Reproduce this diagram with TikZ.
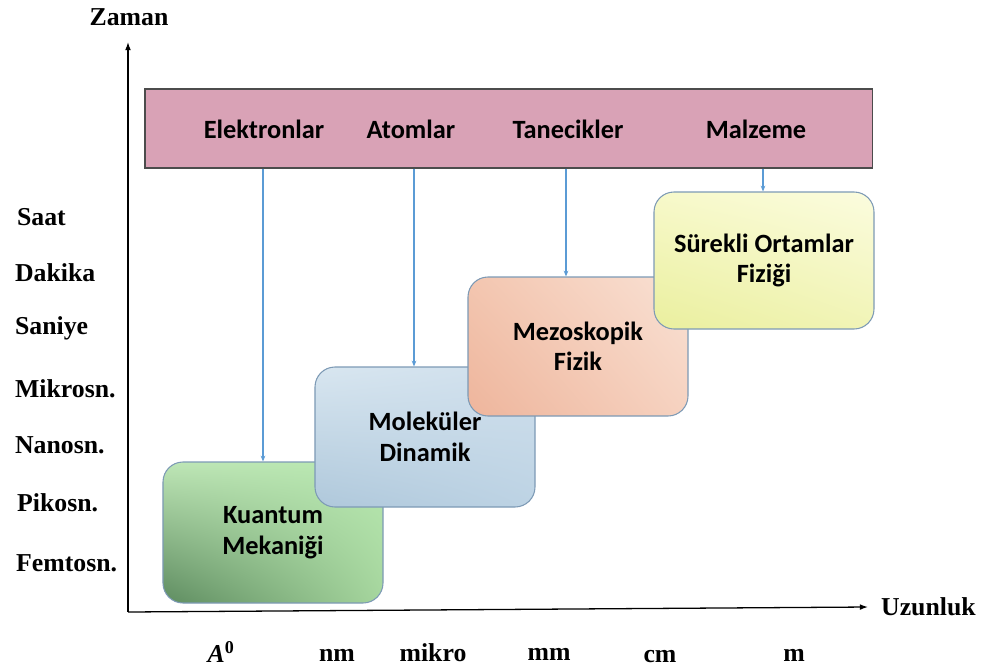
\documentclass[tikz,border=0pt]{standalone}
\usepackage{fontspec}
\setmainfont{Liberation Serif}
\newfontfamily\calib{Carlito}
\usetikzlibrary{arrows.meta,shadings}
\definecolor{barpink}{HTML}{D9A2B6}
\definecolor{boxedge}{HTML}{7D9AB5}
\definecolor{arrblue}{HTML}{5B9BD5}
\definecolor{gUL}{HTML}{BEE6B6}\definecolor{gUR}{HTML}{B8E8B0}\definecolor{gLR}{HTML}{A6D69E}\definecolor{gLL}{HTML}{5E8C60}
\definecolor{bUL}{HTML}{D8E6F0}\definecolor{bUR}{HTML}{CFDFEC}\definecolor{bLR}{HTML}{BDD3E4}\definecolor{bLL}{HTML}{AFC8DB}
\definecolor{pUL}{HTML}{F3C6B0}\definecolor{pUR}{HTML}{F9E1D4}\definecolor{pLR}{HTML}{F6D2C0}\definecolor{pLL}{HTML}{EEB59C}
\definecolor{yUL}{HTML}{F7F9CA}\definecolor{yUR}{HTML}{FBFCDE}\definecolor{yLR}{HTML}{F1F4B6}\definecolor{yLL}{HTML}{EAEF9E}
\tikzset{
  axis/.style={line width=1.1pt, -{Latex[length=7pt,width=5pt]}},
  arr/.style={arrblue, line width=0.9pt, -{Stealth[length=5pt,width=4pt]}},
  scalebox/.style={draw=boxedge, line width=0.9pt, rounded corners=0.6cm, minimum width=6.6cm,
     align=center, font=\calib\bfseries\fontsize{22.5}{26}\selectfont},
  bartext/.style={font=\calib\bfseries\fontsize{22.5}{26}\selectfont},
  lbl/.style={font=\bfseries\fontsize{22}{26}\selectfont},
}
\begin{document}
\begin{tikzpicture}[x=0.03cm, y=-0.03cm]
\useasboundingbox (0,0) rectangle (981,670);
% axes
\coordinate (O) at (128,612);
\coordinate (ytop) at (128,42);
\coordinate (xend) at (868,607);
\draw[axis] (O) -- (ytop);
\draw[axis] (O) -- (xend);
\node[lbl] (zaman) at (129,17) {Zaman};
\node[lbl, anchor=west] (uzun) at (877,607) {Uzunluk};
% time labels
\node[lbl, anchor=west] (t1) at (13,217) {Saat};
\node[lbl, anchor=west] (t2) at (11,273) {Dakika};
\node[lbl, anchor=west] (t3) at (11,328) {Saniye};
\node[lbl, anchor=west] (t4) at (11,389) {Mikrosn.};
\node[lbl, anchor=west] (t5) at (11,445) {Nanosn.};
\node[lbl, anchor=west] (t6) at (13,503) {Pikosn.};
\node[lbl, anchor=west] (t7) at (12,563) {Femtosn.};
% length labels
\node[lbl, anchor=base] (l1) at (221,662) {\textit{A}\textsuperscript{0}};
\node[lbl, anchor=base] (l2) at (337,661) {nm};
\node[lbl, anchor=base] (l3) at (433,661) {mikro};
\node[lbl, anchor=base] (l4) at (549,660) {mm};
\node[lbl, anchor=base] (l5) at (660,662) {cm};
\node[lbl, anchor=base] (l6) at (794,661) {m};
% top bar
\node[draw=black!70, line width=0.9pt, fill=barpink, minimum width=21.81cm, minimum height=2.37cm] (bar) at (508.5,128.5) {};
\node[bartext] (el) at (264,129) {Elektronlar};
\node[bartext] (at) at (411,129) {Atomlar};
\node[bartext] (ta) at (568,129) {Tanecikler};
\node[bartext] (ma) at (756,129) {Malzeme};
% boxes
\node[scalebox, minimum height=4.23cm,
   upper left=gUL, upper right=gUR, lower right=gLR, lower left=gLL]
   (kq) at (273,532.5) {Kuantum\\Mekaniği};
\node[scalebox, minimum height=4.2cm,
   upper left=bUL, upper right=bUR, lower right=bLR, lower left=bLL]
   (md) at (425,437) {Moleküler\\Dinamik};
\node[scalebox, minimum height=4.17cm,
   upper left=pUL, upper right=pUR, lower right=pLR, lower left=pLL]
   (mf) at (578,346.5) {Mezoskopik\\Fizik};
\node[scalebox, minimum height=4.11cm,
   upper left=yUL, upper right=yUR, lower right=yLR, lower left=yLL]
   (so) at (764,260.5) {Sürekli Ortamlar\\Fiziği};
% arrows
\coordinate (a1) at (263,0);
\coordinate (a2) at (414,0);
\coordinate (a3) at (566,0);
\coordinate (a4) at (763,0);
\draw[arr] (bar.south -| a1) -- (kq.north -| a1);
\draw[arr] (bar.south -| a2) -- (md.north -| a2);
\draw[arr] (bar.south -| a3) -- (mf.north -| a3);
\draw[arr] (bar.south -| a4) -- (so.north -| a4);
\end{tikzpicture}
\end{document}
